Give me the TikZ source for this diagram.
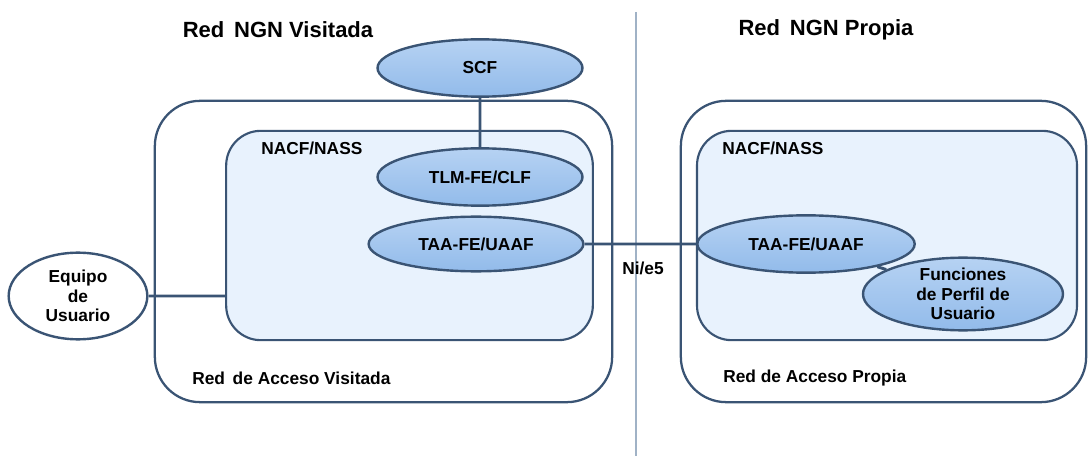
\documentclass[tikz,border=0pt]{standalone}
\usepackage{fontspec}
\setmainfont{Liberation Sans}
\usetikzlibrary{shapes.geometric, positioning, backgrounds}

\definecolor{lineblue}{RGB}{58,84,116}
\definecolor{fnblue}{RGB}{146,187,234}
\definecolor{fntop}{RGB}{182,210,243}
\definecolor{nassfill}{RGB}{232,242,253}
\definecolor{splitgray}{RGB}{160,178,198}

\pgfdeclarelayer{links}
\pgfsetlayers{background,links,main}

\begin{document}
\begin{tikzpicture}[x=0.75pt, y=-0.75pt]
    \tikzstyle{txt}=[font=\fontsize{13}{14.5}\selectfont\bfseries, inner sep=0pt];
    \tikzstyle{title}=[font=\fontsize{16.5}{18}\selectfont\bfseries, inner sep=0pt];
    \tikzstyle{func}=[draw=lineblue, line width=1.8pt, ellipse, inner sep=0pt,
        top color=fntop, bottom color=fnblue, align=center, txt];
    \tikzstyle{netbox}=[draw=lineblue, line width=1.7pt, rectangle, rounded corners=34pt, fill=white];
    \tikzstyle{nassbox}=[draw=lineblue, line width=1.6pt, rectangle, rounded corners=26pt, fill=nassfill];
    \tikzstyle{link}=[draw=lineblue, line width=2.2pt];

    \useasboundingbox (0,0) rectangle (1089,456);

    % redes de acceso
    \begin{pgfonlayer}{background}
    \draw[splitgray, line width=1.2pt] (636,12) -- (636,456);
    \node[netbox, minimum width=343pt, minimum height=226pt] (accV) at (383.5,251.5) {};
    \node[netbox, minimum width=304pt, minimum height=226pt] (accP) at (883.5,251.5) {};
    \node[nassbox, minimum width=275pt, minimum height=157pt] (nassV) at (409.5,235.5) {};
    \node[nassbox, minimum width=285pt, minimum height=157pt] (nassP) at (887,235.5) {};
    \end{pgfonlayer}

    \node[title] (tV) at (278,30) {Red\, NGN Visitada};
    \node[title] (tP) at (826,30) {Red\, NGN Propia};
    \node[txt, anchor=west] (lnV) at (261,148) {NACF/NASS};
    \node[txt, anchor=west] (lnP) at (722,148) {NACF/NASS};
    \node[txt, anchor=west] (laV) at (192,378) {Red\, de Acceso Visitada};
    \node[txt, anchor=west] (laP) at (723,378) {Red de Acceso Propia};

    % funciones
    \node[func, minimum width=153.75pt, minimum height=43pt] (scf) at (480,68) {SCF};
    \node[func, minimum width=153.75pt, minimum height=43pt] (tlm) at (480,177) {TLM-FE/CLF};
    \node[func, minimum width=161pt, minimum height=41pt] (taaV) at (476,244) {TAA-FE/UAAF};
    \node[func, minimum width=163pt, minimum height=43pt] (taaP) at (806,244) {TAA-FE/UAAF};
    \node[func, minimum width=150pt, minimum height=51pt] (perfil) at (963,294) {Funciones\\de Perfil de\\Usuario};
    \node[func, top color=white, bottom color=white, minimum width=104pt, minimum height=65pt] (ue) at (78,296) {Equipo\\de\\Usuario};
    \node[txt] (ni) at (643,268) {Ni/e5};

    \begin{pgfonlayer}{links}
    \path[link]
    (scf) -- (tlm)
    (taaV.east) -- (taaP.west)
    (taaP) -- (perfil)
    (ue.east) -- (ue.east -| nassV.west);
    \end{pgfonlayer}
\end{tikzpicture}
\end{document}
